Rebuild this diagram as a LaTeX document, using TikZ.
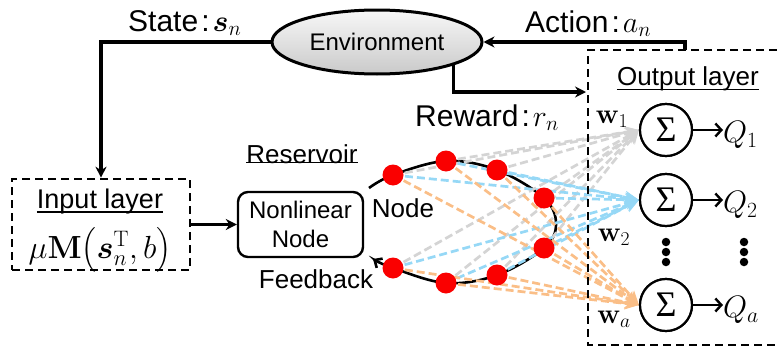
\RequirePackage{fix-cm}
\documentclass[tikz,border=0pt]{standalone}
\usepackage{amsmath,bm}
\usepackage[no-math]{fontspec}
\setmainfont{Liberation Sans}
\newfontfamily\sigmafont{Liberation Serif}
\usetikzlibrary{arrows.meta,shapes.geometric}
\definecolor{lgray}{RGB}{212,212,212}
\definecolor{lblue}{RGB}{150,216,246}
\definecolor{lorange}{RGB}{250,190,135}
\definecolor{rnodecol}{RGB}{250,0,0}
\newcommand{\fs}[1]{\fontsize{#1}{#1}\selectfont}
\begin{document}
\begin{tikzpicture}[x=1pt,y=-1pt,
  thickln/.style={line width=3.3pt},
  arr/.style={-{Stealth[length=11pt,width=11pt]}},
  dbox/.style={line width=2.6pt, dash pattern=on 8pt off 5pt},
  sumc/.style={circle, draw, line width=2.2pt, minimum size=52pt, fill=white, inner sep=0pt},
  rnode/.style={circle, fill=rnodecol, minimum size=21pt, inner sep=0pt},
  cline/.style={line width=2.7pt, dash pattern=on 8pt off 4pt, -{Stealth[length=14pt,width=12pt]}},
  lab/.style={anchor=base west, inner sep=0pt, font=\fs{30}},
  ttl/.style={anchor=base, inner sep=0pt, font=\fs{26}},
  qlab/.style={anchor=west, inner sep=0pt, font=\fs{31}},
  wlab/.style={inner sep=0pt, font=\fs{28}},
  uline/.style={line width=1.5pt},
  dot/.style={circle, fill=black, minimum size=8.5pt, inner sep=0pt}]
\useasboundingbox (0,0) rectangle (777,351);

% environment
\node[ellipse, draw, line width=3pt, minimum width=210pt, minimum height=64pt,
      top color=gray!6, bottom color=gray!42, font=\fs{24}] (env) at (377,42) {Environment};

% input layer
\node[draw, dbox, minimum width=178pt, minimum height=91pt] (inbox) at (101,224.5) {};
\node[ttl, font=\fs{27}] (inlab) at (100,208) {Input layer};
\draw[uline] ([yshift=2pt]inlab.south west) -- ([yshift=2pt]inlab.south east);
\node[anchor=base, inner sep=0pt, font=\fs{32}] (inform) at (100,258)
   {$\mu\mathbf{M}\big(\boldsymbol{s}_n^{\mathrm{T}},b\big)$};

% nonlinear node
\node[draw, rounded corners=10pt, line width=2.4pt, minimum width=125pt, minimum height=65pt,
      align=center, font=\fs{24}] (nl) at (300.5,224.5) {Nonlinear\\[5pt]Node};
\node[ttl] (reslab) at (302,163) {Reservoir};
\draw[uline] ([yshift=1pt]reslab.south west) -- ([yshift=1pt]reslab.south east);
\node[ttl] (nodelab) at (403,217) {Node};
\node[ttl] (fblab) at (316,288) {Feedback};

% output layer box
\coordinate (ob1) at (790,50);
\coordinate (ob2) at (588,50);
\coordinate (ob3) at (588,345);
\coordinate (ob4) at (790,345);
\node[ttl] (outlab) at (688,85) {Output layer};
\draw[uline] ([yshift=1pt]outlab.south west) -- ([yshift=1pt]outlab.south east);

% sum nodes
\node[sumc] (s1) at (666,130) {};
\node[sumc] (s2) at (666,200) {};
\node[sumc] (s3) at (666,305) {};

% reservoir ring points
\coordinate (ps) at (369,188);
\coordinate (p1) at (393,175);
\coordinate (p2) at (446,161);
\coordinate (p3) at (497,170);
\coordinate (p4) at (544,198);
\coordinate (pr) at (556,224);
\coordinate (p5) at (544,248);
\coordinate (p6) at (497,275);
\coordinate (p7) at (446,283);
\coordinate (p8) at (393,268);
\coordinate (pe) at (373,259);

\draw[line width=2.6pt, -{Straight Barb[length=6pt,width=11pt]}]
  plot[smooth, tension=0.6] coordinates {(ps) (p1) (p2) (p3) (p4) (pr) (p5) (p6) (p7) (p8) (pe)};

% weighted connections
\foreach \i in {1,...,8} \draw[cline, lgray] (p\i) -- (s1.west);
\foreach \i in {1,...,8} \draw[cline, lblue] (p\i) -- (s2.west);
\foreach \i in {1,...,8} \draw[cline, lorange] (p\i) -- (s3.west);

\foreach \i in {1,...,8} \node[rnode] (r\i) at (p\i) {};

% output box border
\draw[dbox] (ob1) -- (ob2) -- (ob3) -- (ob4);

% sum nodes redrawn on top
\foreach \s in {s1,s2,s3}
  \node[sumc] at (\s) {\sigmafont\fs{36}Σ};

% Q labels
\node[qlab] (q1) at (723,135) {$Q_1$};
\node[qlab] (q2) at (723,205) {$Q_2$};
\node[qlab] (q3) at (723,310) {$Q_a$};
\foreach \s/\q in {s1/q1,s2/q2,s3/q3}
  \draw[line width=2.4pt, -{Straight Barb[length=6pt,width=13pt]}] (\s.east) -- (\s.east -| \q.west);

% weight labels
\node[wlab] (w1) at (612,119) {$\mathbf{w}_1$};
\node[wlab] (w2) at (614,237) {$\mathbf{w}_2$};
\node[wlab] (w3) at (614,319) {$\mathbf{w}_a$};

% dots
\foreach \y [count=\k] in {242,252,262} {
  \node[dot] (dl\k) at (666,\y) {};
  \node[dot] (dr\k) at (744,\y) {};
}

% main connectors
\draw[thickln, arr] (env.west) -| (inbox.north);
\draw[thickln, arr] (inbox.east) -- (nl.west);
\coordinate (act) at (685,50);
\draw[thickln, arr] (act) |- (env.east);
\coordinate (rwend) at (586,92);
\draw[thickln, arr] (env.-17) |- (rwend);

% labels
\node[lab] (statelab) at (128,31) {State\hspace{3pt}:\hspace{3pt}$\boldsymbol{s}_n$};
\node[lab] (actlab) at (525,32) {Action\hspace{3pt}:\hspace{3pt}$a_n$};
\node[lab] (rewlab) at (415,126) {Reward\hspace{3pt}:\hspace{3pt}$r_n$};
\end{tikzpicture}
\end{document}
